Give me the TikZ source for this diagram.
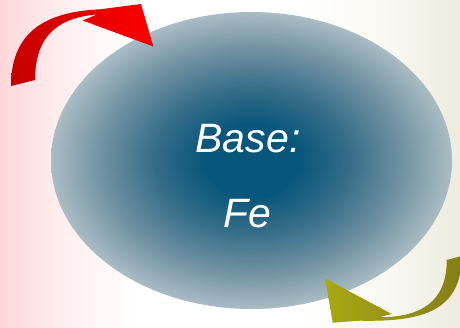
\documentclass[tikz,border=0pt]{standalone}
\usepackage{fontspec}
\setmainfont{Liberation Sans}
\definecolor{bgleft}{RGB}{255,214,217}
\definecolor{bgpink}{RGB}{255,236,237}
\definecolor{bgcream}{RGB}{248,247,240}
\definecolor{bgright}{RGB}{236,235,220}
\definecolor{corec}{RGB}{8,86,123}
\definecolor{innerc}{RGB}{52,109,137}
\definecolor{outerc}{RGB}{114,147,163}
\definecolor{edgec}{RGB}{170,188,196}
\definecolor{reddark}{RGB}{196,0,0}
\definecolor{redbright}{RGB}{255,0,0}
\definecolor{olivebright}{RGB}{170,167,20}
\definecolor{olivedark}{RGB}{132,126,22}
\pgfdeclareradialshading{ellshade}{\pgfpoint{0bp}{0bp}}{color(0bp)=(corec); color(6bp)=(corec); color(12bp)=(innerc); color(19bp)=(outerc); color(25bp)=(edgec); color(50bp)=(edgec)}
\pgfdeclarehorizontalshading{bgshade}{100bp}{color(0bp)=(bgleft); color(25bp)=(bgleft); color(31bp)=(bgpink); color(40bp)=(white); color(58bp)=(white); color(68bp)=(bgcream); color(75bp)=(bgright); color(100bp)=(bgright)}
\tikzset{
  lbl/.style={text=white, font=\fontsize{41}{48}\selectfont\itshape, inner sep=0pt, anchor=base},
  redarrowstyle/.style={left color=reddark, middle color=redbright, right color=redbright, draw=none},
  olivearrowstyle/.style={left color=olivebright, right color=olivedark, draw=none}
}
\begin{document}
\begin{tikzpicture}[x=1pt,y=-1pt]
\useasboundingbox (0,0) rectangle (460,327);
% background
\shade[shading=bgshade] (0,0) rectangle (460,327);
% ellipse
\shade[shading=ellshade] (251.5,160.5) ellipse [x radius=200.5pt, y radius=148.5pt];
% red curved arrow
\shade[redarrowstyle] (11,86) .. controls (11,38) and (38,12) .. (100,9.3)
  -- (141,4) -- (153.3,46.5) -- (82.7,20.5) -- (97,14.5)
  .. controls (65,17) and (35,30) .. (35,80) -- cycle;
% olive curved arrow
\begin{scope}
\clip (0,0) rectangle (460,327);
\shade[olivearrowstyle] (325,278.3) -- (332.7,322.7) -- (360,320.7)
  .. controls (425,322) and (461,310) .. (462,256)
  -- (446.7,260)
  .. controls (447,303) and (419,317.5) .. (379,317.2)
  -- (391.7,314) -- cycle;
\end{scope}
% labels
\node[lbl] (base) at (248,152.5) {Base:};
\node[lbl] (fe) at (247,227.7) {Fe};
\end{tikzpicture}
\end{document}
